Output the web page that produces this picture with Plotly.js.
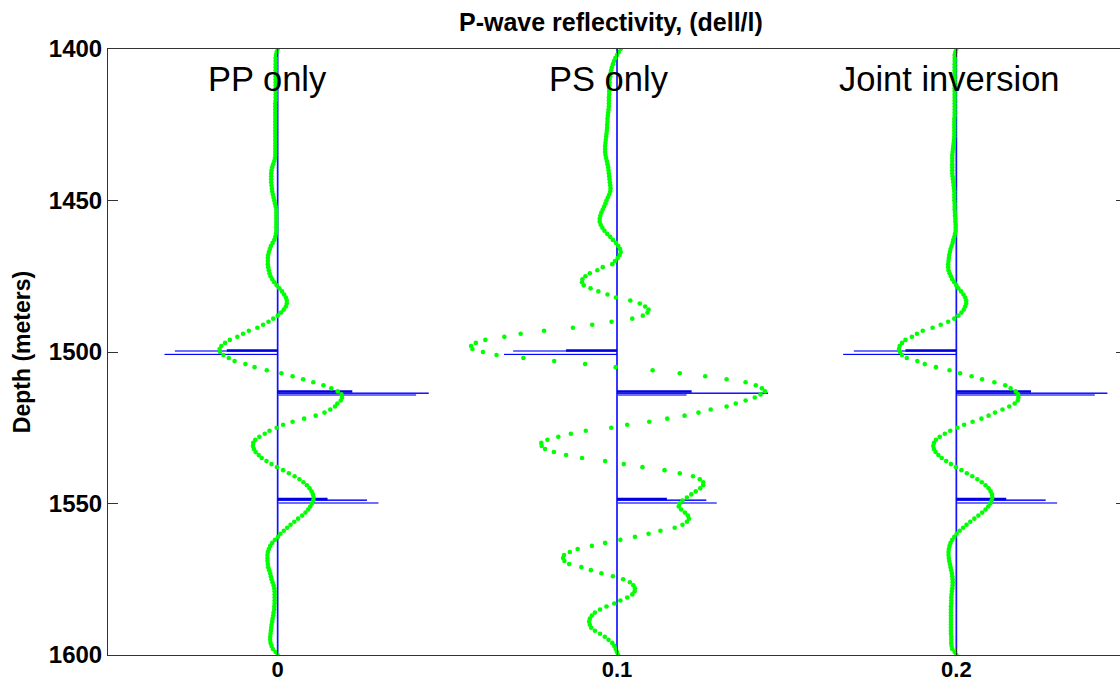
<!DOCTYPE html>
<html>
<head>
<meta charset="utf-8">
<script src="https://cdn.plot.ly/plotly-3.0.1.min.js"></script>
<style>
  html, body { margin: 0; padding: 0; background: #fff; overflow: hidden; }
  #chart { width: 1140px; height: 700px; }
</style>
</head>
<body>
<div id="chart"></div>
<script>
// ---------------- DATA ----------------
// depth sampling of the reflectivity curves (m)
const depthTop = 1400;
const depthBottom = 1600;
const depthStep = 1;

// estimated P-wave reflectivity curves, in thousandths (x 0.001), one value per metre 1400..1600
const ppOnly = [
  0,-0.3,-0.5,-0.6,-0.6,-0.6,-0.6,-0.6,-0.6,-0.6,
  -0.6,-0.6,-0.6,-0.6,-0.6,-0.6,-0.6,-0.6,-0.7,-0.7,
  -0.7,-0.7,-0.7,-0.7,-0.7,-0.7,-0.7,-0.7,-0.7,-0.7,
  -0.7,-0.7,-0.7,-0.7,-0.7,-0.7,-0.8,-1.0,-1.3,-1.6,
  -1.8,-1.9,-1.9,-1.9,-1.9,-1.8,-1.7,-1.6,-1.4,-1.2,
  -1.0,-0.8,-0.6,-0.4,-0.4,-0.4,-0.4,-0.4,-0.4,-0.4,
  -0.4,-0.5,-0.7,-1.0,-1.5,-2.0,-2.3,-2.6,-2.8,-2.9,
  -2.9,-2.9,-2.8,-2.6,-2.4,-2.1,-1.6,-1.0,-0.3,0.5,
  1.3,1.9,2.4,2.7,2.7,2.4,1.8,1.0,0.0,-1.3,
  -2.7,-4.3,-6.0,-8.5,-10.2,-11.9,-14.1,-15.5,-16.6,-17.1,
  -17.0,-16.0,-14.4,-12.7,-9.5,-6.8,-3.2,1.1,4.4,7.5,
  10.5,13.5,15.8,17.7,18.8,19.0,18.6,17.6,16.9,15.5,
  13.8,11.2,7.8,4.4,1.6,-0.3,-2.4,-3.8,-5.4,-6.6,
  -7.2,-7.3,-7.0,-6.5,-5.6,-4.7,-3.3,-1.8,-0.2,1.6,
  3.3,5.0,6.4,7.6,8.6,9.4,10.0,10.4,10.6,10.5,
  10.1,9.6,9.0,8.2,7.2,6.0,4.9,3.8,2.8,1.8,
  0.8,0.1,-0.8,-1.6,-2.2,-2.6,-2.9,-3.0,-3.0,-3.0,
  -2.9,-2.8,-2.5,-2.2,-2.0,-1.8,-1.5,-1.2,-1.0,-0.9,
  -0.9,-0.9,-0.9,-0.9,-1.0,-1.0,-1.2,-1.3,-1.5,-1.6,
  -1.8,-1.9,-2.0,-2.1,-2.2,-2.2,-2.1,-1.8,-1.4,-0.6,
  0
];
const psOnly = [
  1.1,0.5,0.0,-0.5,-0.9,-1.2,-1.5,-1.7,-1.9,-2.0,
  -2.2,-2.2,-2.3,-2.3,-2.3,-2.3,-2.4,-2.4,-2.4,-2.4,
  -2.5,-2.6,-2.7,-2.8,-2.8,-2.9,-2.9,-3.0,-3.1,-3.2,
  -3.3,-3.4,-3.5,-3.5,-3.5,-3.4,-3.2,-3.0,-2.8,-2.6,
  -2.5,-2.4,-2.3,-2.2,-2.1,-2.0,-1.9,-2.0,-2.3,-2.7,
  -3.1,-3.4,-3.8,-4.2,-4.6,-4.9,-5.1,-5.1,-4.8,-4.3,
  -3.7,-2.9,-2.0,-1.2,-0.3,0.4,0.9,1.1,0.8,0.2,
  -0.6,-1.4,-4.2,-5.8,-8.0,-9.3,-10.2,-10.3,-9.8,-7.8,
  -5.5,-2.8,-0.3,3.9,6.7,8.3,9.3,9.0,7.6,4.5,
  -1.6,-7.3,-13.0,-21.5,-28.4,-33.2,-38.8,-41.6,-43.0,-42.6,
  -39.5,-35.5,-27.6,-18.5,-9.4,-0.4,10.5,18.5,26.0,32.3,
  37.9,40.9,42.7,43.6,42.3,40.6,37.9,35.0,32.3,27.6,
  24.0,19.9,14.8,9.5,3.0,-1.7,-9.2,-13.6,-17.3,-20.5,
  -22.3,-22.2,-21.2,-18.6,-15.0,-10.3,-3.5,2.0,7.5,14.0,
  18.5,22.4,24.4,25.4,25.4,24.5,23.2,21.9,20.6,19.3,
  18.4,18.2,18.9,20.0,20.9,21.2,20.6,19.3,17.0,12.8,
  9.3,5.3,1.0,-3.5,-7.4,-11.6,-13.9,-15.6,-15.9,-15.5,
  -14.1,-10.5,-7.7,-4.6,-1.2,1.8,3.8,4.8,5.3,5.2,
  4.5,3.0,1.0,-0.8,-3.1,-5.0,-6.5,-7.4,-8.0,-8.2,
  -8.0,-7.6,-6.5,-5.0,-3.6,-2.5,-1.4,-0.8,-0.4,0.0,
  0.3
];
const jointInversion = [
  0,-0.3,-0.5,-0.5,-0.5,-0.5,-0.5,-0.5,-0.5,-0.5,
  -0.5,-0.5,-0.5,-0.5,-0.5,-0.5,-0.5,-0.5,-0.5,-0.5,
  -0.5,-0.5,-0.5,-0.6,-0.6,-0.6,-0.6,-0.6,-0.6,-0.6,
  -0.7,-0.8,-0.9,-1.0,-1.1,-1.2,-1.2,-1.2,-1.2,-1.2,
  -1.2,-1.2,-1.1,-1.0,-0.9,-0.8,-0.7,-0.6,-0.6,-0.6,
  -0.6,-0.5,-0.5,-0.5,-0.4,-0.4,-0.3,-0.3,-0.2,-0.2,
  -0.2,-0.4,-0.6,-0.9,-1.1,-1.4,-1.7,-1.9,-2.1,-2.2,
  -2.3,-2.4,-2.4,-2.3,-2.0,-1.6,-1.2,-0.6,0.0,0.6,
  1.4,2.1,2.6,2.9,2.9,2.6,2.2,1.5,0.6,-0.6,
  -2.4,-4.6,-7.0,-9.9,-11.6,-13.1,-15.0,-16.0,-16.7,-16.9,
  -16.6,-16.0,-14.6,-11.5,-9.3,-6.0,-2.0,1.1,4.5,7.6,
  11.2,14.4,16.0,17.5,18.2,18.3,18.1,17.2,15.6,13.6,
  11.4,9.5,7.4,4.8,2.3,0.3,-1.8,-3.4,-4.9,-6.0,
  -6.6,-6.8,-6.6,-6.1,-5.3,-4.3,-3.0,-1.6,-0.1,1.5,
  3.1,4.7,6.2,7.5,8.6,9.5,10.1,10.5,10.6,10.4,
  10.0,9.4,8.6,7.6,6.5,5.3,4.1,3.0,2.0,1.0,
  0.1,-0.6,-1.2,-1.7,-2.0,-2.2,-2.3,-2.3,-2.2,-2.1,
  -1.9,-1.7,-1.5,-1.3,-1.2,-1.1,-1.1,-1.1,-1.2,-1.3,
  -1.4,-1.5,-1.5,-1.5,-1.6,-1.6,-1.6,-1.6,-1.6,-1.6,
  -1.6,-1.6,-1.6,-1.6,-1.5,-1.5,-1.5,-1.4,-1.2,-0.5,
  0
];

// true reflectivity spikes (thousandths), identical in every panel
const trueSpikeDepths = [1500.8, 1513.6, 1548.9];
const trueSpikeValues = [-33.3, 44.5, 26.3];
const trueCoreDepths  = [1499.5, 1513.0, 1548.5];
const trueCoreValues  = [-15.0, 22.0, 14.7];

// blocky reflectivity spikes per panel (thousandths)
const estSpikeDepths = [1499.7, 1514.2, 1549.8];
const ppSpikes    = [-30.3, 40.8, 29.7];
const psSpikes    = [-30.6, 20.5, 29.4];
const jointSpikes = [-30.2, 40.8, 29.7];

// panels
const panelLabels  = ['PP only', 'PS only', 'Joint inversion'];
const panelLabelX  = [-0.003, 0.0976, 0.198];
const panelOffsets = [0, 0.1, 0.2];
const panelCurves  = [ppOnly, psOnly, jointInversion];
const panelSpikes  = [ppSpikes, psSpikes, jointSpikes];

const xTickVals = [0, 0.1, 0.2];
const xTickText = ['0', '0.1', '0.2'];
const yTickVals = [1400, 1450, 1500, 1550, 1600];

const UNIT = 0.001;

// ---------------- BUILD ----------------
const depths = [];
for (let d = depthTop; d <= depthBottom; d += depthStep) depths.push(d);

function stickLine(offset, dList, vList) {
  const x = [offset], y = [depthTop];
  dList.forEach((d, i) => {
    x.push(offset, offset + vList[i] * UNIT, offset);
    y.push(d, d, d);
  });
  x.push(offset); y.push(depthBottom);
  return {x, y};
}
function spikesOnly(offset, dList, vList) {
  const x = [], y = [];
  dList.forEach((d, i) => {
    x.push(offset, offset + vList[i] * UNIT, null);
    y.push(d, d, null);
  });
  return {x, y};
}

const traces = [];
panelOffsets.forEach((off, p) => {
  const est = stickLine(off, estSpikeDepths, panelSpikes[p]);
  traces.push({type: 'scatter', mode: 'lines', x: est.x, y: est.y,
    line: {color: '#6f6fff', width: 2}, hoverinfo: 'skip', showlegend: false});
  const tr = stickLine(off, trueSpikeDepths, trueSpikeValues);
  traces.push({type: 'scatter', mode: 'lines', x: tr.x, y: tr.y,
    line: {color: '#0000ff', width: 1}, hoverinfo: 'skip', showlegend: false});
  const core = spikesOnly(off, trueCoreDepths, trueCoreValues);
  traces.push({type: 'scatter', mode: 'lines', x: core.x, y: core.y,
    line: {color: '#0000e0', width: 2.5}, hoverinfo: 'skip', showlegend: false});
});
panelOffsets.forEach((off, p) => {
  traces.push({type: 'scatter', mode: 'markers',
    x: panelCurves[p].map(v => off + v * UNIT), y: depths,
    marker: {color: '#00ff00', size: 4.6, line: {width: 0}},
    name: panelLabels[p], showlegend: false});
});

const FONT = 'Arial, "Liberation Sans", sans-serif';

const layout = {
  width: 1140, height: 700,
  margin: {l: 108, r: 13.5, t: 49, b: 45},
  paper_bgcolor: '#ffffff', plot_bgcolor: '#ffffff',
  font: {family: FONT, color: '#000'},
  title: {
    text: 'P-wave reflectivity, (dell/l)',
    font: {family: FONT, size: 25, weight: 'bold', color: '#000'},
    xref: 'paper', x: 0.494, xanchor: 'center',
    yref: 'container', y: 1 - 22 / 700, yanchor: 'middle'
  },
  xaxis: {
    range: [-0.05, 0.25], tickvals: xTickVals, ticktext: xTickText,
    ticks: 'inside', ticklen: 8, tickcolor: '#333', showline: true, linecolor: '#333', linewidth: 1,
    mirror: 'ticks', showgrid: false, zeroline: false, ticklabelstandoff: -5,
    tickfont: {family: FONT, size: 22, weight: 'bold', color: '#000'}
  },
  yaxis: {
    range: [depthBottom, depthTop], tickvals: yTickVals,
    ticks: 'inside', ticklen: 10, tickcolor: '#333', showline: true, linecolor: '#333', linewidth: 1,
    mirror: 'ticks', showgrid: false, zeroline: false,
    tickfont: {family: FONT, size: 24, weight: 'bold', color: '#000'},
    title: {text: 'Depth (meters)', standoff: 11,
      font: {family: FONT, size: 23, weight: 'bold', color: '#000'}}
  },
  annotations: panelLabels.map((t, i) => ({
    text: t, xref: 'x', yref: 'y',
    x: panelLabelX[i], y: 1410, xanchor: 'center', yanchor: 'middle',
    showarrow: false, font: {family: FONT, size: 34.5, color: '#000'}
  }))
};

Plotly.newPlot('chart', traces, layout, {staticPlot: true, displayModeBar: false});
</script>
</body>
</html>
